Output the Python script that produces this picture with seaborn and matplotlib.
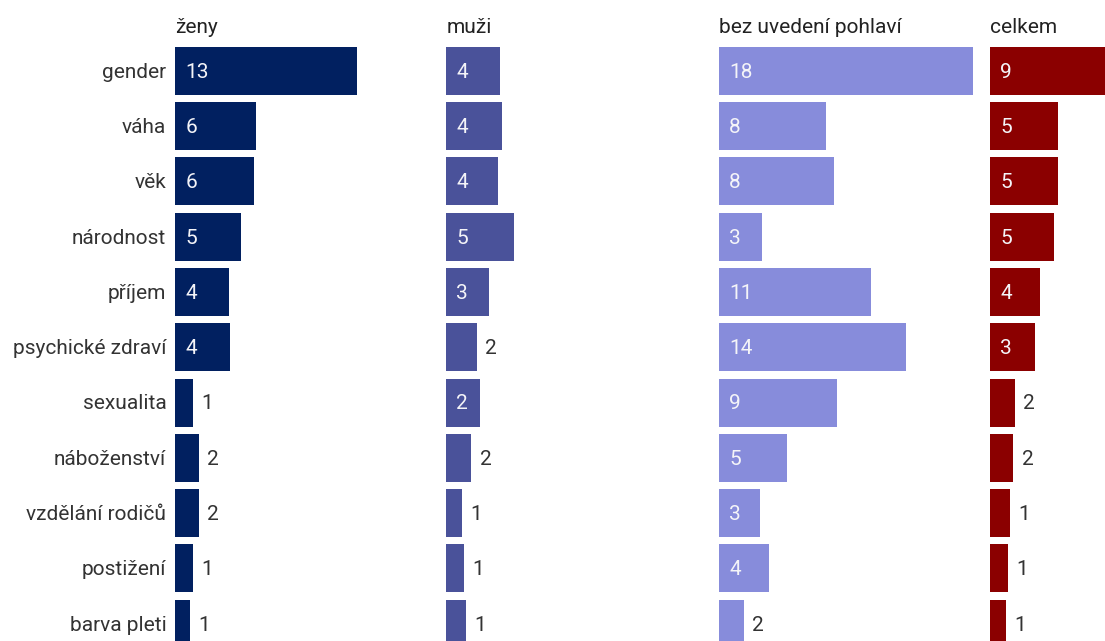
import matplotlib
matplotlib.use("Agg")
import matplotlib.pyplot as plt
import seaborn as sns
import pandas as pd

categories = ["gender", "váha", "věk", "národnost", "příjem", "psychické zdraví",
              "sexualita", "náboženství", "vzdělání rodičů", "postižení", "barva pleti"]

zeny = [13.0, 5.74, 5.62, 4.71, 3.83, 3.93, 1.29, 1.67, 1.67, 1.29, 1.03]
zeny_labels = [13, 6, 6, 5, 4, 4, 1, 2, 2, 1, 1]
muzi = [3.84, 3.96, 3.69, 4.86, 3.07, 2.17, 2.43, 1.79, 1.14, 1.29, 1.41]
muzi_labels = [4, 4, 4, 5, 3, 2, 2, 2, 1, 1, 1]
bez = [18.12, 7.66, 8.19, 3.07, 10.83, 13.38, 8.40, 4.86, 2.93, 3.57, 1.79]
bez_labels = [18, 8, 8, 3, 11, 14, 9, 5, 3, 4, 2]
celkem = [8.9, 4.86, 4.86, 4.6, 3.57, 3.19, 1.79, 1.67, 1.41, 1.29, 1.14]
celkem_labels = [9, 5, 5, 5, 4, 3, 2, 2, 1, 1, 1]

titles = ["ženy", "muži", "bez uvedení pohlaví", "celkem"]
colors = ["#012060", "#4a529a", "#878cdb", "#8b0000"]

sns.set_theme(style="white")
plt.rcParams["font.family"] = ["Roboto", "DejaVu Sans"]

W, H = 1105, 641
fig = plt.figure(figsize=(W / 100, H / 100), dpi=100)
fig.patch.set_facecolor("white")

px_per_unit = 14.0
row0 = 70.7
row_step = 55.3
lefts = [175.3, 446.3, 719.0, 990.0]
ax_width_px = 260.0
fs = 15.0
txt_dark = "#333333"
base_off = 6.9 / row_step

series = [(zeny, zeny_labels), (muzi, muzi_labels), (bez, bez_labels), (celkem, celkem_labels)]

for k, ((vals, labs), title, col, left) in enumerate(zip(series, titles, colors, lefts)):
    ax = fig.add_axes([left / W, 0, ax_width_px / W, 1])
    df = pd.DataFrame({"kat": categories, "hodnota": vals})
    sns.barplot(data=df, y="kat", x="hodnota", orient="h", color=col,
                width=48 / row_step, linewidth=0, saturation=1, ax=ax)
    ax.set_xlim(0, ax_width_px / px_per_unit)
    ax.set_ylim((H - row0) / row_step, -row0 / row_step)
    ax.axis("off")
    for i, (v, lab) in enumerate(zip(vals, labs)):
        yb = i + base_off
        if v >= 2.3:
            ax.annotate(str(lab), xy=(0, yb), xytext=(7.3, 0), textcoords="offset points",
                        ha="left", va="baseline", color="#f4f4f8", fontsize=fs)
        else:
            ax.annotate(str(lab), xy=(v, yb), xytext=(6.0, 0), textcoords="offset points",
                        ha="left", va="baseline", color=txt_dark, fontsize=fs)
    ax.text(0, (33.0 - row0) / row_step, title, ha="left", va="baseline",
            color="#222222", fontsize=fs)
    if k == 0:
        for i, c in enumerate(categories):
            ax.annotate(c, xy=(0, i + base_off), xytext=(-6.5, 0),
                        textcoords="offset points", ha="right", va="baseline",
                        color=txt_dark, fontsize=fs, annotation_clip=False)

fig.savefig("out.png", dpi=100, facecolor="white")
